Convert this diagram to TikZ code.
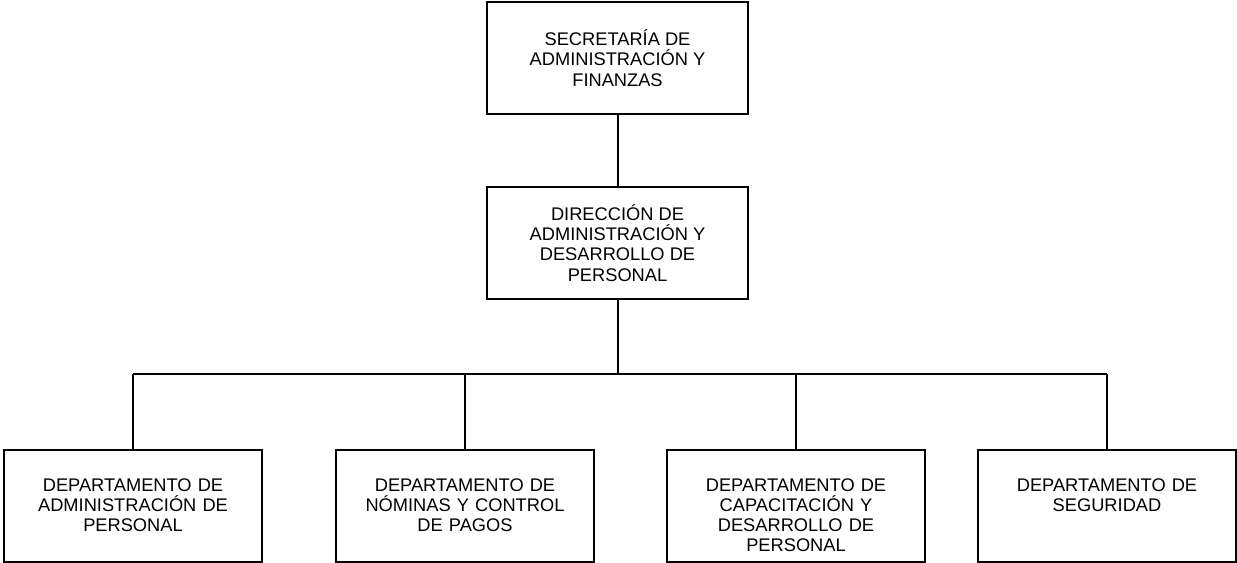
\documentclass[tikz,border=0pt]{standalone}
\usepackage{fontspec}
\setmainfont{Liberation Sans}
\begin{document}
\begin{tikzpicture}[x=0.75pt,y=-0.75pt,line width=1.5pt]
            \tikzset{
                jefe/.style={draw,minimum width=195.75pt,minimum height=84pt,align=center,
                    font=\fontsize{13.7pt}{15.2pt}\selectfont,inner sep=0pt},
                depto/.style={draw,anchor=north,text width=193.5pt,align=center,
                    font=\fontsize{13.7pt}{15.2pt}\selectfont,inner sep=0pt,
                    text height=30.75pt,text depth=52.9pt},}
            \useasboundingbox (0,0) rectangle (1237,562);
            \node [jefe] (sec) at (617.5,58) {SECRETARÍA DE\\ADMINISTRACIÓN Y\\FINANZAS};
            \node [jefe] (dir) at (617.5,243) {DIRECCIÓN DE\\ADMINISTRACIÓN Y\\DESARROLLO DE\\PERSONAL};
            \node [depto] (d1) at (133,449) {DEPARTAMENTO DE\\ADMINISTRACIÓN DE\\PERSONAL};
            \node [depto] (d2) at (465,449) {DEPARTAMENTO DE\\NÓMINAS Y CONTROL\\DE PAGOS};
            \node [depto] (d3) at (796,449) {DEPARTAMENTO DE\\CAPACITACIÓN Y\\DESARROLLO DE\\PERSONAL};
            \node [depto] (d4) at (1107,449) {DEPARTAMENTO DE\\SEGURIDAD};
            \coordinate (barra) at (617.5,374);
            \draw (sec) -- (dir);
            \draw (dir) -- (barra);
            \draw (d1.north |- barra) -- (d4.north |- barra);
            \foreach \d in {d1,d2,d3,d4}
                \draw (\d.north) -- (\d.north |- barra);
        \end{tikzpicture}
\end{document}
